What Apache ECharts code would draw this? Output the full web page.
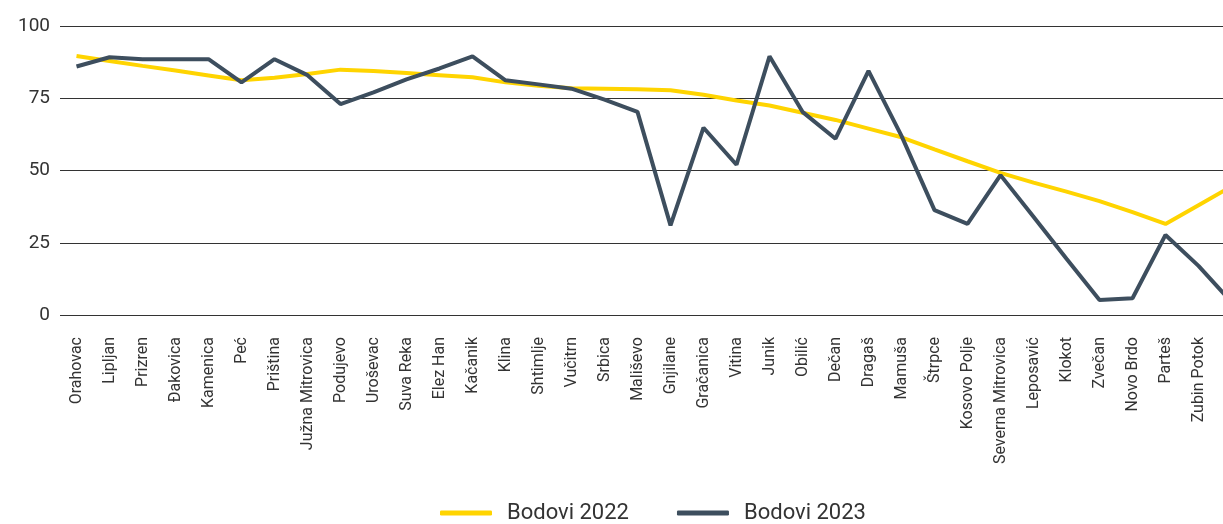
<!DOCTYPE html>
<html>
<head>
<meta charset="utf-8">
<script src="https://cdn.jsdelivr.net/npm/echarts@6/dist/echarts.min.js"></script>
<style>
  html, body { margin: 0; padding: 0; background: #fff; }
  #chart { width: 1223px; height: 524px; }
</style>
</head>
<body>
<div id="chart"></div>
<script>
// opštine (the last slot is cut off at the right edge in the original)
var categories = [
  "Orahovac", "Lipljan", "Prizren", "Đakovica", "Kamenica", "Peć", "Priština",
  "Južna Mitrovica", "Podujevo", "Uroševac", "Suva Reka", "Elez Han", "Kačanik",
  "Klina", "Shtimlje", "Vučitrn", "Srbica", "Mališevo", "Gnjilane", "Gračanica",
  "Vitina", "Junik", "Obilić", "Dečan", "Dragaš", "Mamuša", "Štrpce",
  "Kosovo Polje", "Severna Mitrovica", "Leposavić", "Klokot", "Zvečan",
  "Novo Brdo", "Parteš", "Zubin Potok", ""
];

var bodovi2022 = [
  89.6, 87.9, 86.2, 84.6, 82.9, 81.2, 82.1, 83.4, 84.9, 84.4, 83.7, 83.0,
  82.3, 80.5, 79.3, 78.5, 78.3, 78.1, 77.8, 76.2, 74.2, 72.5, 70.0, 67.5,
  64.5, 61.5, 57.3, 53.2, 49.2, 45.8, 42.7, 39.4, 35.6, 31.5, 38.0, 44.5
];

var bodovi2023 = [
  86.0, 89.2, 88.5, 88.5, 88.5, 80.5, 88.5, 83.0, 73.0, 77.0, 81.5, 85.3,
  89.5, 81.2, 79.8, 78.3, 74.5, 70.3, 31.0, 64.8, 52.0, 89.5, 70.3, 61.0,
  84.5, 62.0, 36.3, 31.5, 48.4, 34.0, 19.5, 5.2, 5.8, 27.7, 17.0, 4.5
];

var yTicks = { min: 0, max: 100, step: 25 };

var chart = echarts.init(document.getElementById("chart"));

var option = {
  animation: false,
  textStyle: { fontFamily: "Roboto" },
  color: ["#ffd400", "#3d4e5e"],
  // grid runs past the right edge so the last slot is clipped, like the original
  grid: { left: 60, top: 26, right: -25, bottom: 209, outerBoundsMode: "none" },
  legend: {
    left: 440,
    top: 502,
    padding: 0,
    itemWidth: 52,
    itemHeight: 5,
    itemGap: 48,
    icon: "roundRect",
    textStyle: { fontSize: 22, color: "#333", fontFamily: "Roboto", padding: [0, 0, 0, 10] },
    data: ["Bodovi 2022", "Bodovi 2023"]
  },
  xAxis: {
    type: "category",
    data: categories,
    boundaryGap: true,
    axisLine: { show: false },
    axisTick: { show: false },
    axisLabel: {
      interval: 0,
      rotate: 90,
      margin: 22,
      fontSize: 16,
      color: "#333"
    }
  },
  yAxis: {
    type: "value",
    min: yTicks.min,
    max: yTicks.max,
    interval: yTicks.step,
    axisLine: { show: false },
    axisTick: { show: false },
    axisLabel: { fontSize: 19, color: "#333", margin: 10 },
    splitLine: { lineStyle: { color: "#333", width: 1 } }
  },
  series: [
    {
      name: "Bodovi 2022",
      type: "line",
      data: bodovi2022,
      showSymbol: false,
      lineStyle: { width: 4 }
    },
    {
      name: "Bodovi 2023",
      type: "line",
      data: bodovi2023,
      showSymbol: false,
      lineStyle: { width: 4 }
    }
  ]
};

chart.setOption(option);
</script>
</body>
</html>
